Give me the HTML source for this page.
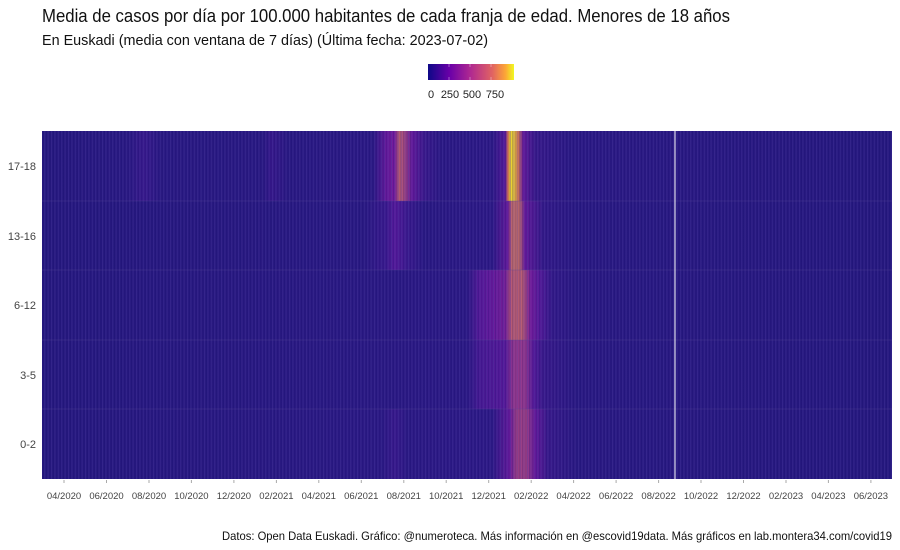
<!DOCTYPE html>
<html><head><meta charset="utf-8"><style>
body{margin:0;background:#fff;}
svg{display:block;font-family:"Liberation Sans Narrow","Liberation Sans",sans-serif;}
</style></head><body>
<svg width="900" height="550" viewBox="0 0 900 550" xmlns="http://www.w3.org/2000/svg">
<defs>
<linearGradient id="leg" x1="0" x2="1" y1="0" y2="0">
<stop offset="0" stop-color="#0d0887"/><stop offset="0.25" stop-color="#6a00a8"/><stop offset="0.5" stop-color="#b12a90"/><stop offset="0.75" stop-color="#e16462"/><stop offset="0.9" stop-color="#fca636"/><stop offset="1" stop-color="#f0f921"/>
</linearGradient>
<pattern id="str" width="3.4" height="10" patternUnits="userSpaceOnUse">
<rect x="0" y="0" width="1" height="10" fill="#4a3aa0" opacity="0.35"/>
<rect x="2" y="0" width="0.8" height="10" fill="#10086a" opacity="0.3"/>
</pattern>
<linearGradient id="r1" gradientUnits="userSpaceOnUse" x1="42" x2="892" y1="0" y2="0">
<stop offset="0" stop-color="#26197e"/>
<stop offset="0.10" stop-color="#2a1a82"/><stop offset="0.12" stop-color="#3a1a8c"/><stop offset="0.14" stop-color="#2a1a82"/>
<stop offset="0.26" stop-color="#2a1a82"/><stop offset="0.27" stop-color="#38188a"/><stop offset="0.29" stop-color="#2a1a82"/>
<stop offset="0.39" stop-color="#2c1a84"/><stop offset="0.405" stop-color="#6a1a9c"/><stop offset="0.415" stop-color="#7a1c9c"/>
<stop offset="0.42" stop-color="#c06070"/><stop offset="0.425" stop-color="#b0507a"/><stop offset="0.435" stop-color="#6a1a9c"/><stop offset="0.45" stop-color="#3c1a8c"/><stop offset="0.47" stop-color="#2c1a84"/>
<stop offset="0.53" stop-color="#2e1a86"/><stop offset="0.545" stop-color="#5a1a9a"/><stop offset="0.548" stop-color="#e07050"/>
<stop offset="0.551" stop-color="#f0d830"/><stop offset="0.555" stop-color="#f0d030"/><stop offset="0.56" stop-color="#e08050"/><stop offset="0.566" stop-color="#6a1a9c"/><stop offset="0.58" stop-color="#3a1a8a"/><stop offset="0.62" stop-color="#2c1a84"/>
<stop offset="1" stop-color="#26197e"/>
</linearGradient>
<linearGradient id="r2" gradientUnits="userSpaceOnUse" x1="42" x2="892" y1="0" y2="0">
<stop offset="0" stop-color="#26197e"/>
<stop offset="0.38" stop-color="#2a1a82"/><stop offset="0.405" stop-color="#3c1a8e"/><stop offset="0.415" stop-color="#5a1a9c"/><stop offset="0.43" stop-color="#3c1a8e"/><stop offset="0.45" stop-color="#2a1a82"/>
<stop offset="0.53" stop-color="#2e1a86"/><stop offset="0.548" stop-color="#6a1a9c"/><stop offset="0.553" stop-color="#c87068"/><stop offset="0.562" stop-color="#c06a6a"/><stop offset="0.568" stop-color="#6a1a9c"/><stop offset="0.59" stop-color="#341a88"/><stop offset="0.63" stop-color="#2a1a82"/>
<stop offset="1" stop-color="#26197e"/>
</linearGradient>
<linearGradient id="r3" gradientUnits="userSpaceOnUse" x1="42" x2="892" y1="0" y2="0">
<stop offset="0" stop-color="#26197e"/>
<stop offset="0.50" stop-color="#2c1a84"/><stop offset="0.515" stop-color="#5a1a9a"/><stop offset="0.53" stop-color="#6a1a9c"/><stop offset="0.545" stop-color="#7a2098"/><stop offset="0.553" stop-color="#c06070"/><stop offset="0.565" stop-color="#c06070"/><stop offset="0.575" stop-color="#7a1c9c"/><stop offset="0.585" stop-color="#5a1a9a"/><stop offset="0.6" stop-color="#341a88"/><stop offset="0.63" stop-color="#2a1a82"/>
<stop offset="1" stop-color="#26197e"/>
</linearGradient>
<linearGradient id="r4" gradientUnits="userSpaceOnUse" x1="42" x2="892" y1="0" y2="0">
<stop offset="0" stop-color="#26197e"/>
<stop offset="0.50" stop-color="#2c1a84"/><stop offset="0.515" stop-color="#4a1a94"/><stop offset="0.545" stop-color="#5a1a9a"/><stop offset="0.555" stop-color="#9a3a8c"/><stop offset="0.568" stop-color="#9a3a8c"/><stop offset="0.578" stop-color="#5a1a9a"/><stop offset="0.59" stop-color="#3a1a8a"/><stop offset="0.63" stop-color="#2a1a82"/>
<stop offset="1" stop-color="#26197e"/>
</linearGradient>
<linearGradient id="r5" gradientUnits="userSpaceOnUse" x1="42" x2="892" y1="0" y2="0">
<stop offset="0" stop-color="#26197e"/>
<stop offset="0.40" stop-color="#2c1a84"/><stop offset="0.415" stop-color="#3a1a8c"/><stop offset="0.43" stop-color="#2c1a84"/>
<stop offset="0.53" stop-color="#2e1a86"/><stop offset="0.55" stop-color="#6a1a9c"/><stop offset="0.558" stop-color="#a04084"/><stop offset="0.57" stop-color="#a04084"/><stop offset="0.58" stop-color="#6a1a9c"/><stop offset="0.595" stop-color="#3a1a8a"/><stop offset="0.63" stop-color="#2a1a82"/>
<stop offset="1" stop-color="#26197e"/>
</linearGradient>
</defs>
<text x="42" y="22" font-size="18" fill="#111" textLength="688" lengthAdjust="spacingAndGlyphs">Media de casos por día por 100.000 habitantes de cada franja de edad. Menores de 18 años</text>
<text x="42" y="45" font-size="14.5" fill="#111" textLength="446" lengthAdjust="spacingAndGlyphs">En Euskadi (media con ventana de 7 días)  (Última fecha: 2023-07-02)</text>
<rect x="428" y="64" width="86" height="16" fill="url(#leg)"/>
<g stroke="#fff" stroke-width="0.6" opacity="0.6"><line x1="449" y1="64" x2="449" y2="67"/><line x1="470" y1="64" x2="470" y2="67"/><line x1="491" y1="64" x2="491" y2="67"/><line x1="449" y1="77" x2="449" y2="80"/><line x1="470" y1="77" x2="470" y2="80"/><line x1="491" y1="77" x2="491" y2="80"/></g>
<g font-size="11" fill="#222" text-anchor="middle"><text x="431" y="98">0</text><text x="450" y="98">250</text><text x="472" y="98">500</text><text x="495" y="98">750</text></g>
<rect x="42" y="131" width="850" height="70" fill="url(#r1)"/>
<rect x="42" y="201" width="850" height="69" fill="url(#r2)"/>
<rect x="42" y="270" width="850" height="70" fill="url(#r3)"/>
<rect x="42" y="340" width="850" height="69" fill="url(#r4)"/>
<rect x="42" y="409" width="850" height="70" fill="url(#r5)"/>
<rect x="42" y="131" width="850" height="348" fill="url(#str)"/>
<g stroke="#5a4a9a" stroke-width="0.6" opacity="0.6"><line x1="42" y1="201" x2="892" y2="201"/><line x1="42" y1="270" x2="892" y2="270"/><line x1="42" y1="340" x2="892" y2="340"/><line x1="42" y1="409" x2="892" y2="409"/></g>
<line x1="675" y1="131" x2="675" y2="479" stroke="#fff" stroke-width="1"/>
<g font-size="11" fill="#444" text-anchor="end"><text x="36" y="170">17-18</text><text x="36" y="240">13-16</text><text x="36" y="309">6-12</text><text x="36" y="379">3-5</text><text x="36" y="448">0-2</text></g>
<g stroke="#aaa" stroke-width="1">
<line x1="64" y1="480" x2="64" y2="483"/><line x1="106.5" y1="480" x2="106.5" y2="483"/><line x1="149" y1="480" x2="149" y2="483"/><line x1="191.4" y1="480" x2="191.4" y2="483"/><line x1="233.9" y1="480" x2="233.9" y2="483"/><line x1="276.4" y1="480" x2="276.4" y2="483"/><line x1="318.8" y1="480" x2="318.8" y2="483"/><line x1="361.3" y1="480" x2="361.3" y2="483"/><line x1="403.8" y1="480" x2="403.8" y2="483"/><line x1="446.2" y1="480" x2="446.2" y2="483"/><line x1="488.7" y1="480" x2="488.7" y2="483"/><line x1="531.2" y1="480" x2="531.2" y2="483"/><line x1="573.6" y1="480" x2="573.6" y2="483"/><line x1="616.1" y1="480" x2="616.1" y2="483"/><line x1="658.6" y1="480" x2="658.6" y2="483"/><line x1="701" y1="480" x2="701" y2="483"/><line x1="743.5" y1="480" x2="743.5" y2="483"/><line x1="786" y1="480" x2="786" y2="483"/><line x1="828.4" y1="480" x2="828.4" y2="483"/><line x1="870.9" y1="480" x2="870.9" y2="483"/>
</g>
<g font-size="9.5" fill="#444" text-anchor="middle">
<text x="64" y="499">04/2020</text><text x="106.5" y="499">06/2020</text><text x="149" y="499">08/2020</text><text x="191.4" y="499">10/2020</text><text x="233.9" y="499">12/2020</text><text x="276.4" y="499">02/2021</text><text x="318.8" y="499">04/2021</text><text x="361.3" y="499">06/2021</text><text x="403.8" y="499">08/2021</text><text x="446.2" y="499">10/2021</text><text x="488.7" y="499">12/2021</text><text x="531.2" y="499">02/2022</text><text x="573.6" y="499">04/2022</text><text x="616.1" y="499">06/2022</text><text x="658.6" y="499">08/2022</text><text x="701" y="499">10/2022</text><text x="743.5" y="499">12/2022</text><text x="786" y="499">02/2023</text><text x="828.4" y="499">04/2023</text><text x="870.9" y="499">06/2023</text>
</g>
<text x="222" y="540" font-size="12" fill="#111" textLength="670" lengthAdjust="spacingAndGlyphs">Datos: Open Data Euskadi. Gráfico: @numeroteca. Más información en @escovid19data.  Más gráficos en lab.montera34.com/covid19</text>
</svg>
</body></html>
